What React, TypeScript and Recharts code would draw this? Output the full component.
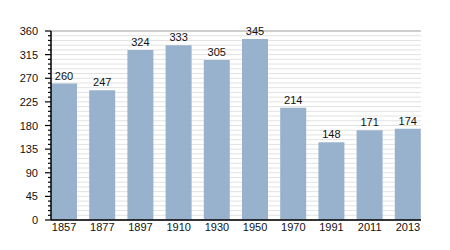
import { BarChart, Bar, XAxis, YAxis, CartesianGrid, LabelList } from 'recharts'

const YEARS = ['1857', '1877', '1897', '1910', '1930', '1950', '1970', '1991', '2011', '2013']
const POPULATION = [260, 247, 324, 333, 305, 345, 214, 148, 171, 174]
const MAJOR_TICKS = [0, 45, 90, 135, 180, 225, 270, 315, 360]
// minor divisions every 9
const MINOR_TICKS = Array.from({ length: 41 }, (_, i) => i * 9)

const DATA = YEARS.map((year, i) => ({ year, value: POPULATION[i] }))

const FONT = '"Liberation Sans", Arial, sans-serif'

const YTick = ({ x, y, payload }: any) => {
  const major = payload.value % 45 === 0
  return (
    <g>
      <line x1={x - (major ? 6 : 3)} x2={x} y1={y} y2={y} stroke="#000" strokeWidth={1.2} />
      {major && (
        <text x={x - 13} y={y} dy={4} textAnchor="end" fontSize={11} fill="#111" fontFamily={FONT}>
          {payload.value}
        </text>
      )}
    </g>
  )
}

export default function App() {
  return (
    <div style={{ position: 'absolute', left: 0, top: 0, width: 450, height: 250, background: '#fff' }}>
      <BarChart width={450} height={250} data={DATA}
        margin={{ top: 31, right: 29, bottom: 0, left: 0 }} style={{ fontFamily: FONT }}>
        <CartesianGrid yAxisId="minor" vertical={false} stroke="#e2e2e2" strokeWidth={1} />
        <CartesianGrid yAxisId="major" vertical={false} stroke="#ababab" strokeWidth={1} />
        <XAxis dataKey="year" padding={{ left: -6, right: -6 }} tickLine={false} tickSize={0}
          axisLine={{ stroke: '#000', strokeWidth: 1.5 }} height={30}
          tick={{ fontSize: 11, fill: '#111' }} tickMargin={3} interval={0} />
        <YAxis yAxisId="minor" width={51} domain={[0, 360]} ticks={MINOR_TICKS} interval={0}
          tickSize={0} tickMargin={0} tickLine={false}
          axisLine={{ stroke: '#000', strokeWidth: 1.5 }} tick={<YTick />} />
        <YAxis yAxisId="major" orientation="right" hide domain={[0, 360]} ticks={MAJOR_TICKS} interval={0} />
        <Bar yAxisId="minor" dataKey="value" fill="#98b2cd" barSize={26} isAnimationActive={false}>
          <LabelList dataKey="value" position="top" offset={4} fontSize={11} fill="#111" />
        </Bar>
      </BarChart>
    </div>
  )
}
